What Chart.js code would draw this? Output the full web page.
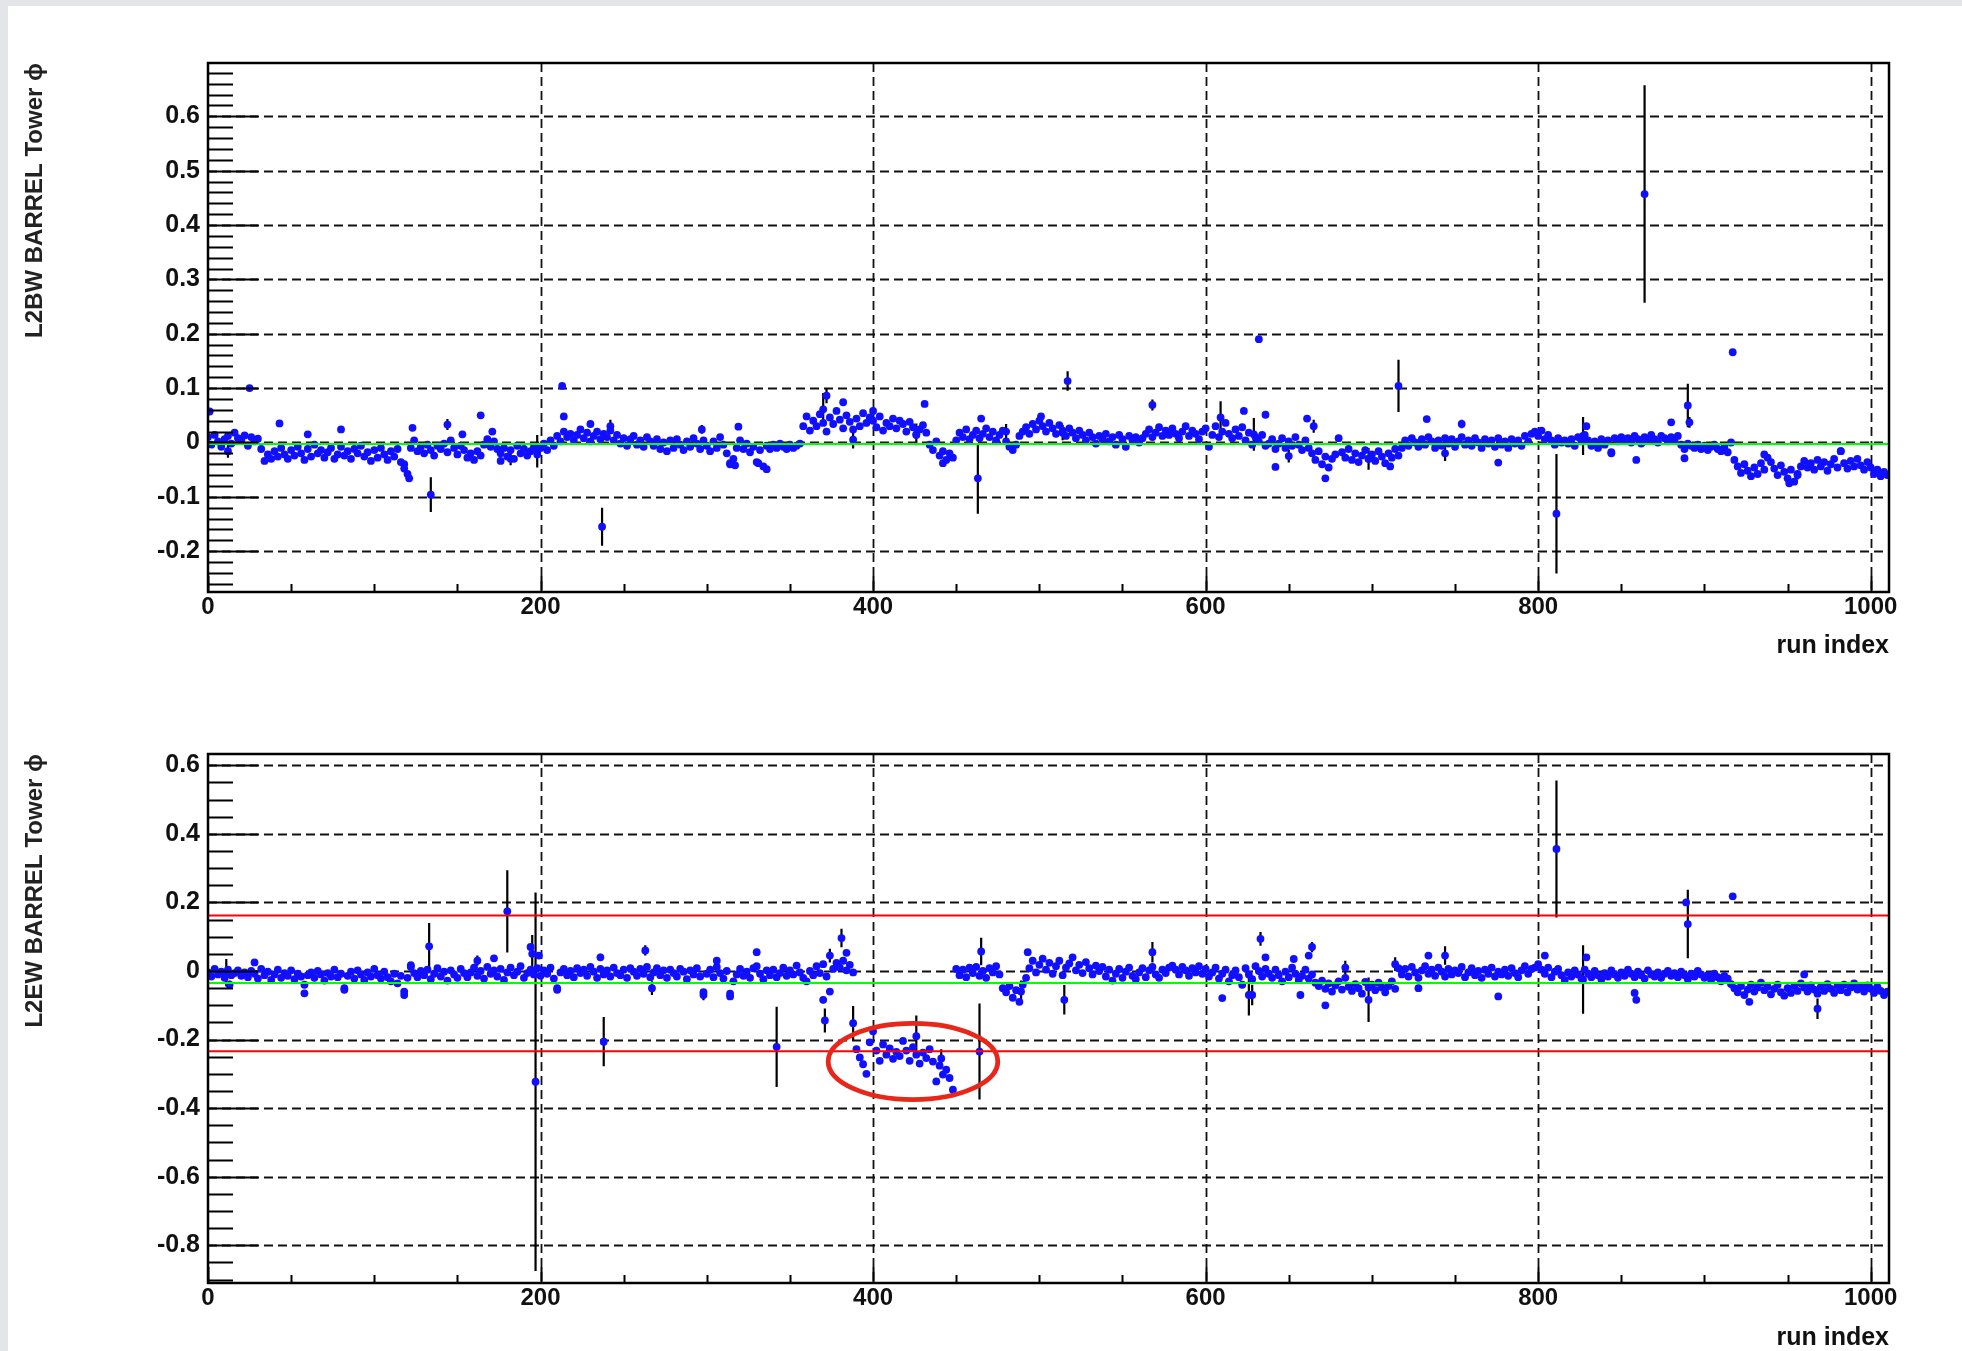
<!DOCTYPE html>
<html>
<head>
<meta charset="utf-8">
<title>L2 tower phi vs run index</title>
<script src="https://cdn.jsdelivr.net/npm/chart.js@4.4.0/dist/chart.umd.min.js"></script>
<style>
  html, body { margin: 0; padding: 0; background: #fff; overflow: hidden; }
  #page { position: relative; width: 1962px; height: 1351px; }
  .edgeL { position: absolute; left: 0; top: 0; width: 8px; height: 1351px; background: #e3e5e8; }
  .edgeT { position: absolute; left: 0; top: 0; width: 1962px; height: 6px; background: #e3e5e8; }
  canvas { position: absolute; left: 0; }
</style>
</head>
<body>
<div id="page">
  <div class="edgeL"></div>
  <div class="edgeT"></div>
  <canvas id="barrelW" width="1962" height="700" style="top:0px"></canvas>
  <canvas id="barrelEW" width="1962" height="700" style="top:690px"></canvas>
</div>
<script>
// run index runs 0..1010, band values stored every RUN_STEP runs
const RUN_STEP = 2;
const X_MAX = 1011;
const xMajor = [0, 200, 400, 600, 800, 1000];

// ---- L2BW BARREL Tower phi ----
const l2bwBand = [
  0.010, -0.004, 0.014, 0.002, -0.008, 0.006, 0.012, -0.002, 0.018, 0.008,
  0.004, 0.013, -0.006, 0.010, 0.002, 0.007, -0.012, -0.034, -0.022, -0.030,
  -0.016, -0.026, -0.010, -0.022, -0.030, -0.014, -0.024, -0.008, -0.020, -0.032,
  -0.012, -0.026, -0.004, -0.020, -0.014, -0.028, -0.018, -0.010, -0.030, -0.022,
  -0.008, -0.024, -0.016, -0.030, -0.012, -0.020, -0.006, -0.026, -0.018, -0.034,
  -0.014, -0.028, -0.010, -0.022, -0.032, -0.016, -0.026, -0.012, -0.036, -0.048,
  -0.058, -0.010, 0.004, -0.016, -0.008, -0.020, -0.004, -0.014, -0.024, -0.006,
  -0.012, -0.002, -0.018, 0.004, -0.010, -0.022, -0.006, -0.014, -0.028, -0.020,
  -0.032, -0.016, -0.024, -0.004, 0.006, -0.008, 0.002, -0.012, -0.020, -0.010,
  -0.026, -0.014, -0.030, -0.006, -0.020, -0.012, -0.024, -0.016, -0.008, -0.022,
  -0.010, -0.002, -0.014, 0.004, -0.006, 0.012, 0.002, 0.020, 0.010, 0.016,
  0.004, 0.014, 0.024, 0.008, 0.018, 0.002, 0.012, 0.020, 0.006, 0.016,
  0.010, 0.022, 0.004, 0.014, -0.002, 0.008, -0.006, 0.006, 0.012, -0.004,
  0.004, -0.008, 0.010, 0.002, -0.006, 0.006, -0.012, 0.000, -0.016, 0.004,
  -0.010, 0.006, -0.004, -0.014, 0.002, -0.008, 0.008, -0.002, -0.012, 0.004,
  -0.006, -0.016, 0.002, -0.010, 0.010, -0.004, -0.020, -0.038, -0.030, -0.010,
  0.004, -0.012, -0.002, -0.018, -0.008, -0.036, -0.014, -0.044, -0.006, -0.012,
  -0.004, -0.010, -0.002, -0.008, -0.012, -0.004, -0.010, -0.006, -0.002, 0.030,
  0.048, 0.022, 0.040, 0.030, 0.052, 0.036, 0.020, 0.046, 0.034, 0.058,
  0.042, 0.026, 0.050, 0.038, 0.024, 0.044, 0.030, 0.054, 0.036, 0.046,
  0.040, 0.028, 0.048, 0.022, 0.036, 0.030, 0.044, 0.026, 0.040, 0.034,
  0.020, 0.038, 0.028, 0.014, 0.024, 0.032, 0.018, -0.004, -0.014, 0.002,
  -0.024, -0.016, -0.032, -0.020, -0.028, 0.004, 0.018, 0.010, 0.024, 0.006,
  0.014, 0.022, 0.008, 0.016, 0.026, 0.010, 0.020, 0.004, 0.014, 0.022,
  0.002, -0.008, -0.014, -0.004, 0.012, 0.020, 0.028, 0.016, 0.034, 0.024,
  0.040, 0.030, 0.020, 0.036, 0.026, 0.016, 0.032, 0.022, 0.012, 0.026,
  0.018, 0.008, 0.022, 0.014, 0.004, 0.018, 0.010, -0.002, 0.012, 0.006,
  0.016, 0.002, 0.010, -0.004, 0.014, 0.006, -0.008, 0.012, 0.004, 0.010,
  0.000, 0.008, 0.016, 0.024, 0.010, 0.018, 0.028, 0.012, 0.022, 0.014,
  0.026, 0.016, 0.008, 0.020, 0.030, 0.012, 0.022, 0.016, 0.006, 0.020,
  0.026, -0.008, 0.014, 0.030, 0.010, 0.020, 0.036, 0.016, 0.008, 0.024,
  0.012, 0.028, 0.004, 0.018, -0.004, 0.010, 0.002, 0.014, -0.006, -0.002,
  0.006, -0.012, -0.002, 0.008, -0.010, 0.002, -0.006, 0.010, -0.004, -0.014,
  0.004, -0.010, -0.020, -0.032, -0.016, -0.040, -0.026, -0.046, -0.030, -0.022,
  0.008, -0.018, -0.028, -0.012, -0.032, -0.020, -0.036, -0.024, -0.014, -0.030,
  -0.022, -0.034, -0.016, -0.026, -0.038, -0.020, -0.028, -0.012, -0.024, -0.010,
  0.004, -0.006, 0.008, 0.000, -0.008, 0.006, -0.004, 0.010, 0.002, -0.010,
  0.004, -0.006, 0.008, -0.002, 0.006, -0.008, 0.002, 0.010, -0.004, 0.004,
  -0.006, 0.008, 0.000, -0.010, 0.006, -0.002, 0.004, -0.008, 0.008, -0.004,
  0.002, -0.010, 0.006, -0.002, 0.004, -0.006, 0.012, 0.002, 0.016, 0.020,
  0.012, 0.022, 0.006, 0.014, 0.004, -0.004, 0.008, 0.000, 0.004, -0.002,
  0.006, -0.006, 0.010, 0.002, 0.014, 0.004, -0.006, 0.002, -0.010, 0.006,
  -0.004, 0.004, -0.018, 0.008, 0.002, 0.010, 0.004, 0.008, 0.000, 0.012,
  0.006, -0.002, 0.010, 0.004, 0.014, 0.006, 0.000, 0.012, 0.008, 0.002,
  0.010, 0.004, 0.012, -0.004, -0.012, -0.002, -0.006, -0.010, -0.004, -0.012,
  -0.006, -0.014, -0.008, -0.004, -0.012, -0.016, -0.008, -0.018, 0.000, -0.032,
  -0.044, -0.056, -0.040, -0.052, -0.062, -0.046, -0.058, -0.038, -0.050, -0.028,
  -0.036, -0.048, -0.060, -0.042, -0.054, -0.066, -0.050, -0.072, -0.058, -0.044,
  -0.034, -0.046, -0.038, -0.050, -0.032, -0.044, -0.036, -0.052, -0.040, -0.030,
  -0.046, -0.016, -0.038, -0.048, -0.034, -0.044, -0.030, -0.042, -0.050, -0.036,
  -0.046, -0.058, -0.050, -0.062, -0.054, -0.060
];
// single runs: [run, value, error]
const l2bwRuns = [
  [1, 0.057, 0], [12, -0.016, 0.012], [25, 0.100, 0], [43, 0.035, 0], [60, 0.015, 0],
  [80, 0.024, 0], [118, -0.040, 0], [121, -0.066, 0], [123, 0.027, 0], [134, -0.096, 0.032],
  [144, 0.033, 0.010], [153, 0.015, 0], [164, 0.050, 0], [171, 0.020, 0], [176, -0.034, 0],
  [182, -0.030, 0.012], [198, -0.016, 0.030], [213, 0.104, 0], [214, 0.048, 0], [230, 0.034, 0],
  [237, -0.155, 0.035], [242, 0.030, 0.012], [297, 0.024, 0.008], [314, -0.040, 0], [317, -0.042, 0],
  [319, 0.029, 0], [331, -0.038, 0], [336, -0.049, 0], [370, 0.061, 0.030], [372, 0.086, 0.014],
  [382, 0.074, 0], [388, 0.005, 0.016], [400, 0.058, 0], [426, 0.015, 0.020], [431, 0.071, 0],
  [442, -0.038, 0], [463, -0.066, 0.065], [465, 0.044, 0], [480, 0.020, 0.014], [501, 0.048, 0],
  [514, 0.018, 0.014], [517, 0.113, 0.018], [568, 0.069, 0.010], [609, 0.046, 0.030], [623, 0.058, 0],
  [629, 0.015, 0.030], [632, 0.190, 0], [636, 0.051, 0], [642, -0.045, 0], [650, -0.025, 0.012],
  [661, 0.044, 0], [665, 0.030, 0.012], [672, -0.066, 0], [698, -0.030, 0.020], [711, -0.044, 0],
  [716, 0.104, 0.048], [733, 0.043, 0], [744, -0.020, 0.014], [754, 0.034, 0.008], [776, -0.037, 0],
  [811, -0.131, 0.110], [827, 0.012, 0.035], [829, 0.030, 0], [844, -0.020, 0], [859, -0.032, 0],
  [864, 0.457, 0.200], [880, 0.037, 0], [888, -0.029, 0], [890, 0.068, 0.040], [891, 0.037, 0.010],
  [917, 0.166, 0], [936, -0.022, 0], [951, -0.075, 0], [956, -0.060, 0.008], [982, -0.016, 0]
];
const l2bwMean = -0.003;
const l2bwYTicks = [-0.2, -0.1, 0, 0.1, 0.2, 0.3, 0.4, 0.5, 0.6];

// ---- L2EW BARREL Tower phi ----
const l2ewBand = [
  -0.004, -0.016, 0.006, -0.010, -0.002, -0.020, 0.004, -0.012, -0.006, 0.002,
  -0.014, -0.004, -0.018, 0.000, -0.008, -0.022, 0.006, -0.012, -0.002, -0.026,
  -0.010, 0.004, -0.020, -0.006, -0.014, 0.002, -0.024, -0.008, -0.016, -0.040,
  -0.012, -0.004, -0.020, 0.000, -0.010, -0.028, -0.006, -0.016, 0.004, -0.018,
  -0.008, -0.050, -0.014, -0.002, -0.022, 0.002, -0.010, -0.026, -0.004, -0.016,
  0.006, -0.012, -0.022, -0.002, -0.018, -0.030, -0.008, -0.036, -0.014, -0.060,
  -0.020, 0.012, -0.006, -0.018, 0.000, -0.012, 0.004, -0.024, -0.008, 0.008,
  -0.016, -0.002, -0.028, 0.002, -0.010, -0.020, 0.006, -0.006, -0.018, -0.004,
  0.010, -0.014, 0.000, -0.022, 0.012, -0.008, 0.002, -0.016, 0.006, -0.026,
  -0.004, 0.010, -0.012, -0.002, 0.014, -0.020, -0.006, 0.004, -0.010, 0.008,
  -0.014, 0.002, -0.008, 0.010, -0.022, -0.050, -0.004, 0.006, -0.012, 0.000,
  -0.018, 0.008, -0.006, 0.004, -0.014, 0.012, -0.002, -0.020, 0.006, -0.010,
  0.002, -0.016, 0.010, -0.006, -0.012, 0.004, -0.020, 0.008, -0.002, -0.014,
  0.006, -0.008, 0.012, -0.018, -0.004, 0.008, -0.012, 0.002, -0.020, 0.004,
  -0.006, -0.016, 0.006, -0.002, -0.024, 0.002, -0.010, 0.008, -0.016, -0.062,
  -0.008, 0.004, -0.018, 0.012, -0.006, -0.022, 0.000, -0.066, -0.030, -0.010,
  0.006, -0.014, -0.002, -0.020, 0.008, 0.014, -0.008, -0.024, 0.002, -0.012,
  0.004, -0.018, -0.006, 0.010, -0.014, 0.002, -0.010, 0.016, -0.004, -0.020,
  -0.030, 0.000, -0.012, 0.014, -0.006, 0.020, -0.016, -0.060, 0.006, 0.024,
  0.010, 0.030, 0.002, 0.018, -0.004, -0.228, -0.252, -0.272, -0.300, -0.208,
  -0.176, -0.232, -0.262, -0.214, -0.244, -0.226, -0.256, -0.236, -0.248, -0.204,
  -0.232, -0.262, -0.222, -0.244, -0.270, -0.238, -0.254, -0.228, -0.264, -0.322,
  -0.276, -0.302, -0.288, -0.312, -0.346, 0.006, -0.012, 0.004, -0.018, 0.010,
  -0.006, 0.012, -0.014, 0.000, -0.020, 0.008, -0.004, 0.014, -0.010, -0.050,
  -0.062, -0.044, -0.078, -0.056, -0.090, -0.040, -0.020, 0.008, 0.030, -0.004,
  0.018, 0.036, 0.004, 0.024, -0.008, 0.014, 0.030, -0.012, 0.010, 0.022,
  0.040, 0.002, 0.018, -0.006, 0.026, 0.008, -0.010, 0.016, 0.000, 0.012,
  -0.016, 0.004, -0.028, -0.008, 0.006, -0.020, -0.002, 0.010, -0.014, -0.024,
  -0.004, 0.008, -0.018, 0.002, 0.012, -0.010, -0.020, 0.004, -0.006, 0.010,
  0.016, 0.004, -0.010, 0.012, 0.002, -0.014, 0.008, -0.004, 0.014, -0.008,
  0.006, -0.016, -0.004, 0.010, -0.022, -0.008, 0.004, -0.030, -0.012, 0.002,
  -0.018, -0.040, 0.008, -0.010, -0.024, 0.014, 0.000, -0.016, 0.006, -0.008,
  -0.020, 0.004, -0.012, -0.030, -0.002, -0.018, 0.010, -0.008, -0.026, -0.014,
  0.004, -0.022, -0.010, -0.034, -0.044, -0.028, -0.052, -0.036, -0.060, -0.042,
  -0.030, -0.054, -0.020, -0.046, -0.058, -0.038, -0.050, -0.066, -0.032, -0.048,
  -0.040, -0.056, -0.034, -0.048, -0.062, -0.044, -0.030, -0.052, 0.008, -0.010,
  0.006, -0.016, 0.012, -0.004, -0.020, 0.002, 0.014, -0.008, 0.004, -0.014,
  0.010, -0.002, -0.016, 0.006, -0.010, 0.002, -0.006, 0.012, -0.018, -0.004,
  0.008, -0.012, 0.000, -0.020, 0.004, -0.008, 0.010, -0.016, -0.002, -0.010,
  0.004, -0.014, 0.008, -0.006, -0.018, 0.002, 0.014, -0.008, 0.006, 0.010,
  0.020, 0.004, -0.008, 0.010, -0.018, -0.002, 0.006, -0.012, -0.026, -0.004,
  -0.016, 0.002, -0.010, -0.022, 0.004, -0.008, -0.018, 0.000, -0.012, -0.024,
  -0.006, -0.016, 0.002, -0.010, -0.020, -0.004, -0.014, 0.004, -0.008, -0.018,
  -0.002, -0.012, -0.022, 0.002, -0.010, -0.016, -0.004, -0.020, -0.008, 0.000,
  -0.014, -0.006, -0.018, -0.002, -0.012, -0.024, -0.008, -0.016, 0.000, -0.010,
  -0.020, -0.012, -0.026, -0.008, -0.018, -0.030, -0.014, -0.022, -0.038, -0.050,
  -0.062, -0.044, -0.070, -0.054, -0.040, -0.060, -0.048, -0.034, -0.056, -0.046,
  -0.068, -0.052, -0.040, -0.062, -0.072, -0.050, -0.064, -0.044, -0.058, -0.036,
  -0.048, -0.060, -0.042, -0.054, -0.066, -0.046, -0.058, -0.038, -0.052, -0.064,
  -0.044, -0.056, -0.040, -0.062, -0.048, -0.036, -0.054, -0.046, -0.060, -0.042,
  -0.052, -0.064, -0.046, -0.058, -0.070, -0.060
];
const l2ewRuns = [
  [11, -0.005, 0.040], [13, -0.040, 0.012], [28, 0.025, 0], [58, -0.065, 0], [82, -0.055, 0],
  [118, -0.070, 0], [122, 0.017, 0], [133, 0.072, 0.068], [162, 0.030, 0.015], [172, 0.037, 0],
  [180, 0.174, 0.120], [194, 0.070, 0], [195, 0.050, 0.055], [197, -0.323, 0.552], [199, 0.045, 0],
  [210, -0.055, 0], [236, 0.040, 0.010], [238, -0.206, 0.072], [263, 0.060, 0.015], [267, -0.050, 0.020],
  [298, -0.070, 0.015], [306, 0.030, 0], [314, -0.074, 0], [330, 0.055, 0.010], [342, -0.221, 0.117],
  [370, -0.084, 0.010], [371, -0.144, 0.035], [374, 0.045, 0.020], [381, 0.096, 0.027], [384, 0.053, 0],
  [388, -0.152, 0.050], [426, -0.190, 0.060], [441, -0.255, 0.027], [464, -0.235, 0.140], [465, 0.057, 0.040],
  [489, -0.060, 0.032], [493, 0.055, 0], [515, -0.084, 0.043], [568, 0.055, 0.030], [610, -0.079, 0],
  [626, -0.070, 0.060], [628, -0.070, 0.030], [633, 0.094, 0.020], [636, 0.040, 0], [653, 0.035, 0],
  [657, -0.070, 0], [662, 0.045, 0], [664, 0.070, 0.015], [672, -0.100, 0], [684, 0.010, 0.020],
  [698, -0.084, 0.065], [714, 0.020, 0.020], [728, -0.050, 0], [734, 0.045, 0], [744, 0.045, 0.027],
  [776, -0.074, 0], [804, 0.045, 0], [811, 0.356, 0.200], [827, -0.025, 0.100], [829, 0.040, 0],
  [858, -0.064, 0], [859, -0.084, 0], [889, 0.200, 0], [890, 0.137, 0.100], [917, 0.218, 0],
  [927, -0.090, 0], [960, -0.010, 0], [968, -0.110, 0.030]
];
const l2ewMean = -0.035;
const l2ewLimits = [0.162, -0.234];
const l2ewYTicks = [-0.8, -0.6, -0.4, -0.2, 0, 0.2, 0.4, 0.6];

Chart.defaults.font.family = '"Liberation Sans", Arial, Helvetica, sans-serif';
Chart.defaults.color = '#111';

// ROOT-style frame: dashed grid, inward ticks, error bars, optional ring
function frameStyle(p) {
  return {
    id: 'frameStyle',
    beforeDatasetsDraw(chart) {
      const { ctx, chartArea: a, scales: { x, y } } = chart;
      ctx.save();
      ctx.strokeStyle = '#111';
      ctx.lineWidth = 1.8;
      ctx.setLineDash([9, 5]);
      ctx.beginPath();
      xMajor.forEach(v => {
        if (v <= 0) return;
        const px = Math.round(x.getPixelForValue(v)) + 0.5;
        ctx.moveTo(px, a.top); ctx.lineTo(px, a.bottom);
      });
      p.yTicks.forEach(v => {
        const py = Math.round(y.getPixelForValue(v)) + 0.5;
        ctx.moveTo(a.left, py); ctx.lineTo(a.right, py);
      });
      ctx.stroke();
      ctx.setLineDash([]);
      ctx.strokeStyle = '#000';
      ctx.lineWidth = 2.2;
      ctx.beginPath();
      p.runs.forEach(([r, v, e]) => {
        if (!e) return;
        const px = x.getPixelForValue(r);
        ctx.moveTo(px, y.getPixelForValue(v - e));
        ctx.lineTo(px, y.getPixelForValue(v + e));
      });
      ctx.stroke();
      ctx.restore();
    },
    afterDatasetsDraw(chart) {
      const { ctx, chartArea: a, scales: { x, y } } = chart;
      ctx.save();
      ctx.strokeStyle = '#000';
      ctx.lineWidth = 2;
      ctx.beginPath();
      // y minor / major ticks (inside, left side)
      for (let k = Math.ceil(y.min / p.yMinor); k * p.yMinor <= y.max; k++) {
        const v = k * p.yMinor;
        const major = p.yTicks.some(t => Math.abs(t - v) < 1e-6);
        const py = Math.round(y.getPixelForValue(v)) + 0.5;
        ctx.moveTo(a.left, py); ctx.lineTo(a.left + (major ? 50 : 25), py);
      }
      // x minor / major ticks (inside, bottom)
      for (let v = 0; v <= x.max; v += 50) {
        const major = v % 200 === 0;
        const px = Math.round(x.getPixelForValue(v)) + 0.5;
        ctx.moveTo(px, a.bottom); ctx.lineTo(px, a.bottom - (major ? 16 : 8));
      }
      ctx.stroke();
      ctx.lineWidth = 2.5;
      ctx.strokeRect(a.left, a.top, a.right - a.left, a.bottom - a.top);
      if (p.ring) {
        const cx = x.getPixelForValue(p.ring.run);
        const cy = y.getPixelForValue(p.ring.val);
        const rx = Math.abs(x.getPixelForValue(p.ring.run + p.ring.dRun) - cx);
        const ry = Math.abs(y.getPixelForValue(p.ring.val + p.ring.dVal) - cy);
        ctx.strokeStyle = '#e8261a';
        ctx.lineWidth = 4.8;
        ctx.beginPath();
        ctx.ellipse(cx, cy, rx, ry, 0, 0, Math.PI * 2);
        ctx.stroke();
      }
      ctx.restore();
    }
  };
}

function hLine(v, color) {
  return {
    data: [{ x: 0, y: v }, { x: X_MAX, y: v }],
    showLine: true, borderColor: color, borderWidth: 2,
    pointRadius: 0, order: 0
  };
}

function dots(points) {
  return {
    data: points,
    pointRadius: 3.9, pointBackgroundColor: '#1010ff',
    pointBorderWidth: 0, borderWidth: 0, order: 1
  };
}

function panel(canvasId, p) {
  const datasets = [
    dots(p.band.map((v, i) => ({ x: i * RUN_STEP, y: v }))),
    dots(p.runs.map(r => ({ x: r[0], y: r[1] }))),
    hLine(p.mean, '#00ff00')
  ];
  (p.limits || []).forEach(v => datasets.push(hLine(v, '#ff0000')));

  return new Chart(document.getElementById(canvasId), {
    type: 'scatter',
    data: { datasets },
    options: {
      responsive: false,
      animation: false,
      devicePixelRatio: 1,
      events: [],
      layout: { padding: { top: p.top, right: 73, left: 0, bottom: 0 } },
      plugins: { legend: { display: false }, tooltip: { enabled: false } },
      scales: {
        x: {
          type: 'linear', min: 0, max: X_MAX, bounds: 'data',
          afterBuildTicks: s => { s.ticks = xMajor.map(v => ({ value: v })); },
          afterFit: s => { s.height = 700 - p.bottom; },
          grid: { display: false, drawTicks: false },
          border: { display: false },
          ticks: {
            padding: 1, autoSkip: false, maxRotation: 0, color: '#111',
            font: { size: 24, weight: 'bold' },
            callback: v => String(v)
          },
          title: {
            display: true, text: 'run index', align: 'end', color: '#111',
            font: { size: 25, weight: 'bold' },
            padding: { top: 0, bottom: p.xTitleGap }
          }
        },
        y: {
          type: 'linear', min: p.yMin, max: p.yMax, bounds: 'data',
          afterBuildTicks: s => { s.ticks = p.yTicks.map(v => ({ value: v })); },
          afterFit: s => { s.width = 208; },
          grid: { display: false, drawTicks: false },
          border: { display: false },
          ticks: {
            padding: 8, autoSkip: false, color: '#111',
            font: { size: 25, weight: 'bold' },
            callback: v => String(+v.toFixed(2))
          },
          title: {
            display: true, text: p.title, align: 'end', color: '#222',
            font: { size: 24, weight: 'bold' },
            padding: { top: 21, bottom: 0 }
          }
        }
      }
    },
    plugins: [frameStyle(p)]
  });
}

panel('barrelW', {
  band: l2bwBand, runs: l2bwRuns, mean: l2bwMean,
  yTicks: l2bwYTicks, yMinor: 0.02, yMin: -0.275, yMax: 0.698,
  title: 'L2BW BARREL Tower ϕ',
  top: 63, bottom: 592, xTitleGap: 39
});

panel('barrelEW', {
  band: l2ewBand, runs: l2ewRuns, mean: l2ewMean, limits: l2ewLimits,
  yTicks: l2ewYTicks, yMinor: 0.05, yMin: -0.91, yMax: 0.633,
  title: 'L2EW BARREL Tower ϕ',
  top: 64, bottom: 593, xTitleGap: 37,
  ring: { run: 424, val: -0.264, dRun: 51, dVal: 0.111 }
});
</script>
</body>
</html>
